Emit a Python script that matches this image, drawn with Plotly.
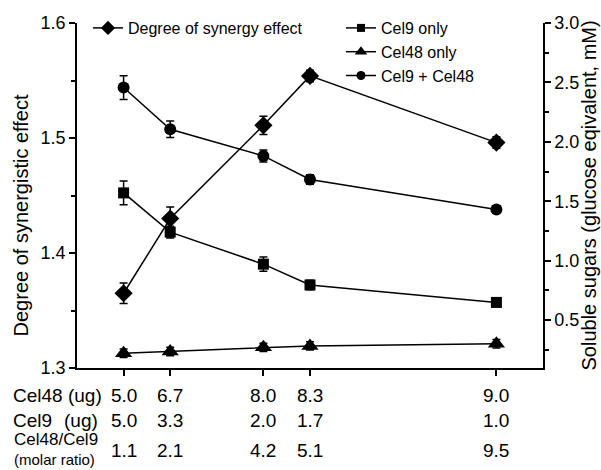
import plotly.graph_objects as go

# ---- data ----
x_pos = [1, 2, 4, 5, 9]
cel48_ug = ["5.0", "6.7", "8.0", "8.3", "9.0"]
cel9_ug = ["5.0", "3.3", "2.0", "1.7", "1.0"]
molar_ratio = ["1.1", "2.1", "4.2", "5.1", "9.5"]

synergy = [1.365, 1.430, 1.511, 1.554, 1.496]
synergy_err = [0.009, 0.010, 0.008, 0.005, 0.005]

cel9_only = [1.57, 1.24, 0.97, 0.795, 0.648]
cel9_only_err = [0.10, 0.05, 0.06, 0.04, 0.035]

cel48_only = [0.22, 0.235, 0.27, 0.282, 0.30]
cel48_only_err = [0.035, 0.035, 0.035, 0.035, 0.035]

combo = [2.457, 2.106, 1.881, 1.683, 1.431]
combo_err = [0.10, 0.07, 0.05, 0.04, 0.03]

FONT = "Liberation Sans, Arial, sans-serif"
BLACK = "black"

fig = go.Figure()

def err(v):
    return dict(type="data", array=v, visible=True, color=BLACK, thickness=1.5, width=4)

# data traces
fig.add_trace(go.Scatter(x=x_pos, y=synergy, error_y=err(synergy_err), mode="lines+markers",
                         line=dict(color=BLACK, width=1.5),
                         marker=dict(symbol="diamond", size=14, color=BLACK),
                         showlegend=False, yaxis="y"))
fig.add_trace(go.Scatter(x=x_pos, y=cel9_only, error_y=err(cel9_only_err), mode="lines+markers",
                         line=dict(color=BLACK, width=1.5),
                         marker=dict(symbol="square", size=11, color=BLACK),
                         showlegend=False, yaxis="y2"))
fig.add_trace(go.Scatter(x=x_pos, y=cel48_only, error_y=err(cel48_only_err), mode="lines+markers",
                         line=dict(color=BLACK, width=1.5),
                         marker=dict(symbol="triangle-up", size=15, color=BLACK),
                         showlegend=False, yaxis="y2"))
fig.add_trace(go.Scatter(x=x_pos, y=combo, error_y=err(combo_err), mode="lines+markers",
                         line=dict(color=BLACK, width=1.5),
                         marker=dict(symbol="circle", size=12, color=BLACK),
                         showlegend=False, yaxis="y2"))

# legend-only traces
def leg(name, symbol, size, legend):
    fig.add_trace(go.Scatter(x=[None], y=[None], mode="lines+markers", name=name,
                             line=dict(color=BLACK, width=1.5),
                             marker=dict(symbol=symbol, size=size, color=BLACK),
                             legend=legend))

leg("Degree of synergy effect", "diamond", 11, "legend")
leg("Cel9 only", "square", 8, "legend2")
leg("Cel48 only", "triangle-up", 11, "legend2")
leg("Cel9 + Cel48", "circle", 9, "legend2")

axis_common = dict(showline=True, linecolor=BLACK, linewidth=1.5, ticks="outside",
                   tickcolor=BLACK, tickwidth=1.5, ticklen=6, showgrid=False, zeroline=False,
                   tickfont=dict(family=FONT, size=18, color=BLACK))

LEG_Y = 1.0 + (22 - 11) / 346

fig.update_layout(
    width=601, height=470,
    margin=dict(l=77, r=58, t=22, b=102),
    paper_bgcolor="white", plot_bgcolor="white",
    font=dict(family=FONT, color=BLACK),
    xaxis=dict(range=[0, 10], tickvals=x_pos, showticklabels=False,
               showline=True, linecolor=BLACK, linewidth=1.5, ticks="outside",
               tickcolor=BLACK, tickwidth=1.5, ticklen=6, showgrid=False, zeroline=False),
    yaxis=dict(range=[1.3, 1.6], tickvals=[1.3, 1.4, 1.5, 1.6], ticktext=["1.3", "1.4", "1.5", "1.6"],
               minor=dict(tickvals=[1.35, 1.45, 1.55], ticks="outside", ticklen=4,
                          tickcolor=BLACK, tickwidth=1.5),
               **axis_common),
    yaxis2=dict(range=[0.096, 3.0], overlaying="y", side="right",
                tickvals=[0.5, 1.0, 1.5, 2.0, 2.5, 3.0],
                ticktext=["0.5", "1.0", "1.5", "2.0", "2.5", "3.0"],
                minor=dict(tickvals=[0.25, 0.75, 1.25, 1.75, 2.25, 2.75], ticks="outside",
                           ticklen=4, tickcolor=BLACK, tickwidth=1.5),
                **axis_common),
    legend=dict(x=(88 - 77) / 466, y=LEG_Y, xanchor="left", yanchor="top",
                bgcolor="rgba(0,0,0,0)", font=dict(family=FONT, size=16, color=BLACK),
                tracegroupgap=0, itemwidth=30),
    legend2=dict(x=(341 - 77) / 466, y=LEG_Y, xanchor="left", yanchor="top",
                 bgcolor="rgba(0,0,0,0)", font=dict(family=FONT, size=16, color=BLACK),
                 tracegroupgap=0, itemwidth=30),
)

# axis titles as annotations
fig.add_annotation(text="Degree of synergistic effect", textangle=-90, xref="paper", yref="paper",
                   x=(21 - 77) / 466, y=(368 - 215) / 346, xanchor="center", yanchor="middle",
                   showarrow=False, font=dict(family=FONT, size=20, color=BLACK))
fig.add_annotation(text="Soluble sugars (glucose eqivalent, mM)", textangle=-90, xref="paper", yref="paper",
                   x=(588 - 77) / 466, y=(368 - 195) / 346, xanchor="center", yanchor="middle",
                   showarrow=False, font=dict(family=FONT, size=20, color=BLACK))

# bottom table rows
row_y = [(368 - 396) / 346, (368 - 421) / 346, (368 - 451) / 346]
for vals, yy in zip([cel48_ug, cel9_ug, molar_ratio], row_y):
    for xv, t in zip(x_pos, vals):
        fig.add_annotation(text=t, x=xv, xref="x", y=yy, yref="paper", showarrow=False,
                           xanchor="center", yanchor="middle",
                           font=dict(family=FONT, size=19, color=BLACK))

lx = (11 - 77) / 466
fig.add_annotation(text="Cel48 (ug)", x=lx, xref="paper", y=row_y[0], yref="paper", showarrow=False,
                   xanchor="left", yanchor="middle", font=dict(family=FONT, size=19, color=BLACK))
fig.add_annotation(text="Cel9", x=lx, xref="paper", y=row_y[1], yref="paper", showarrow=False,
                   xanchor="left", yanchor="middle", font=dict(family=FONT, size=19, color=BLACK))
fig.add_annotation(text="(ug)", x=(100 - 77) / 466, xref="paper", y=row_y[1], yref="paper", showarrow=False,
                   xanchor="right", yanchor="middle", font=dict(family=FONT, size=19, color=BLACK))
fig.add_annotation(text="<span style='font-size:17px'>Cel48/Cel9</span><br>(molar ratio)",
                   x=(12 - 77) / 466, xref="paper", y=(368 - 449) / 346, yref="paper",
                   showarrow=False, xanchor="left", yanchor="middle", align="left",
                   font=dict(family=FONT, size=15, color=BLACK))

fig.write_html("out.html")
